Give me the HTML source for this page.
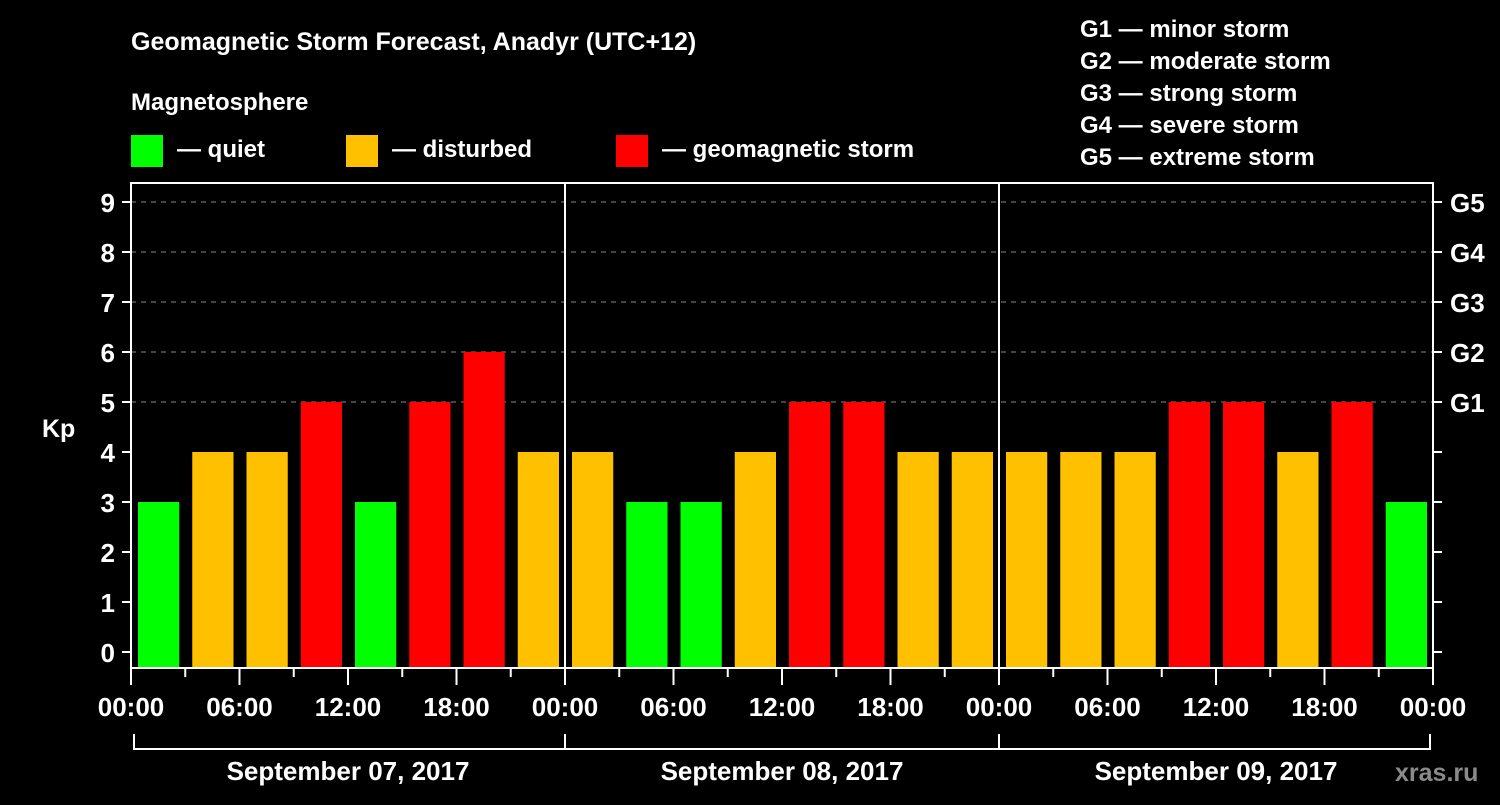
<!DOCTYPE html>
<html><head><meta charset="utf-8"><style>
body{margin:0;background:#000;}
svg text{font-family:"Liberation Sans",Arial,sans-serif;font-weight:bold;fill:#fff;}
</style></head><body>
<svg id="chart" width="1500" height="800" xmlns="http://www.w3.org/2000/svg">
<rect width="1500" height="800" fill="#000"/>
<text x="131" y="50" font-size="25">Geomagnetic Storm Forecast, Anadyr (UTC+12)</text>
<text x="131" y="110" font-size="24">Magnetosphere</text>
<g><rect x="131" y="135" width="32" height="32" fill="#00ff00"/><text x="177" y="157" font-size="24">— quiet</text></g>
<g><rect x="346" y="135" width="32" height="32" fill="#ffc000"/><text x="392" y="157" font-size="24">— disturbed</text></g>
<g><rect x="616" y="135" width="32" height="32" fill="#ff0000"/><text x="662" y="157" font-size="24">— geomagnetic storm</text></g>
<g font-size="24">
<text x="1080" y="37">G1 — minor storm</text>
<text x="1080" y="69">G2 — moderate storm</text>
<text x="1080" y="101">G3 — strong storm</text>
<text x="1080" y="133">G4 — severe storm</text>
<text x="1080" y="165">G5 — extreme storm</text>
</g>
<text x="42" y="437" font-size="25">Kp</text>
<g id="grid"></g><g id="bars"></g><g id="axes"></g>
<text x="1395" y="781" font-size="25" fill="#888" style="fill:#8a8a8a">xras.ru</text>
</svg>
<script>
const values=[3,4,4,5,3,5,6,4, 4,3,3,4,5,5,4,4, 4,4,4,5,5,4,5,3];
const yTicks=[0,1,2,3,4,5,6,7,8,9];
const gLabels=["G1","G2","G3","G4","G5"];
const xLabels=["00:00","06:00","12:00","18:00","00:00","06:00","12:00","18:00","00:00","06:00","12:00","18:00","00:00"];
const days=["September 07, 2017","September 08, 2017","September 09, 2017"];
const NS="http://www.w3.org/2000/svg";
const L=131,R=1433,T=183,B=668;
const slot=(R-L)/values.length;
const y=v=>652-50*v;
const x=i=>L+i*slot;
function mk(tag,attrs,parent,txt){const e=document.createElementNS(NS,tag);for(const k in attrs)e.setAttribute(k,attrs[k]);if(txt!==undefined)e.textContent=txt;parent.appendChild(e);return e;}
const grid=document.getElementById('grid'),bars=document.getElementById('bars'),axes=document.getElementById('axes');
gLabels.forEach((g,i)=>{const v=5+i;
 const l=mk('line',{x1:L,x2:R,y1:y(v),y2:y(v),stroke:'#888','stroke-dasharray':'5,5','stroke-width':1},grid);
 
 
 const t=mk('text',{x:1450,y:y(v)+10,'font-size':26},axes,g);
 
 
});
values.forEach((v,i)=>{
 const c=v>=5?'#ff0000':(v>=4?'#ffc000':'#00ff00');
 const r=mk('rect',{x:x(i)+7,y:y(v),width:slot-13,height:B-y(v),fill:c},bars);
 
 
});
// frame
const f=mk('rect',{x:L,y:T,width:R-L,height:B-T,fill:'none',stroke:'#fff','stroke-width':2},axes);


[1,2].forEach(d=>{const l=mk('line',{x1:x(d*8),x2:x(d*8),y1:T,y2:B,stroke:'#fff','stroke-width':2},axes);
 
 });
yTicks.forEach(v=>{
 mk('line',{x1:L-9,x2:L,y1:y(v),y2:y(v),stroke:'#fff','stroke-width':2},axes);
 mk('line',{x1:R,x2:R+9,y1:y(v),y2:y(v),stroke:'#fff','stroke-width':2},axes);
 const t=mk('text',{x:L-16,y:y(v)+10,'font-size':26,'text-anchor':'end'},axes,String(v));
 
 
});
for(let i=0;i<=values.length;i++){
 const major=i%2===0;
 mk('line',{x1:x(i),x2:x(i),y1:B,y2:major?B+17:B+9,stroke:'#fff','stroke-width':2},axes);
 if(major){const t=mk('text',{x:x(i),y:716,'font-size':26,'text-anchor':'middle'},axes,xLabels[i/2]);
  
  }
}
mk('path',{d:`M${L+3},734 V749 H${R-3} V734`,fill:'none',stroke:'#fff','stroke-width':2},axes);
[1,2].forEach(d=>mk('line',{x1:x(d*8),x2:x(d*8),y1:734,y2:749,stroke:'#fff','stroke-width':2},axes));
days.forEach((d,i)=>{const t=mk('text',{x:(x(i*8)+x(i*8+8))/2,y:780,'font-size':26,'text-anchor':'middle'},axes,d);
 
 });
</script>
</body></html>
